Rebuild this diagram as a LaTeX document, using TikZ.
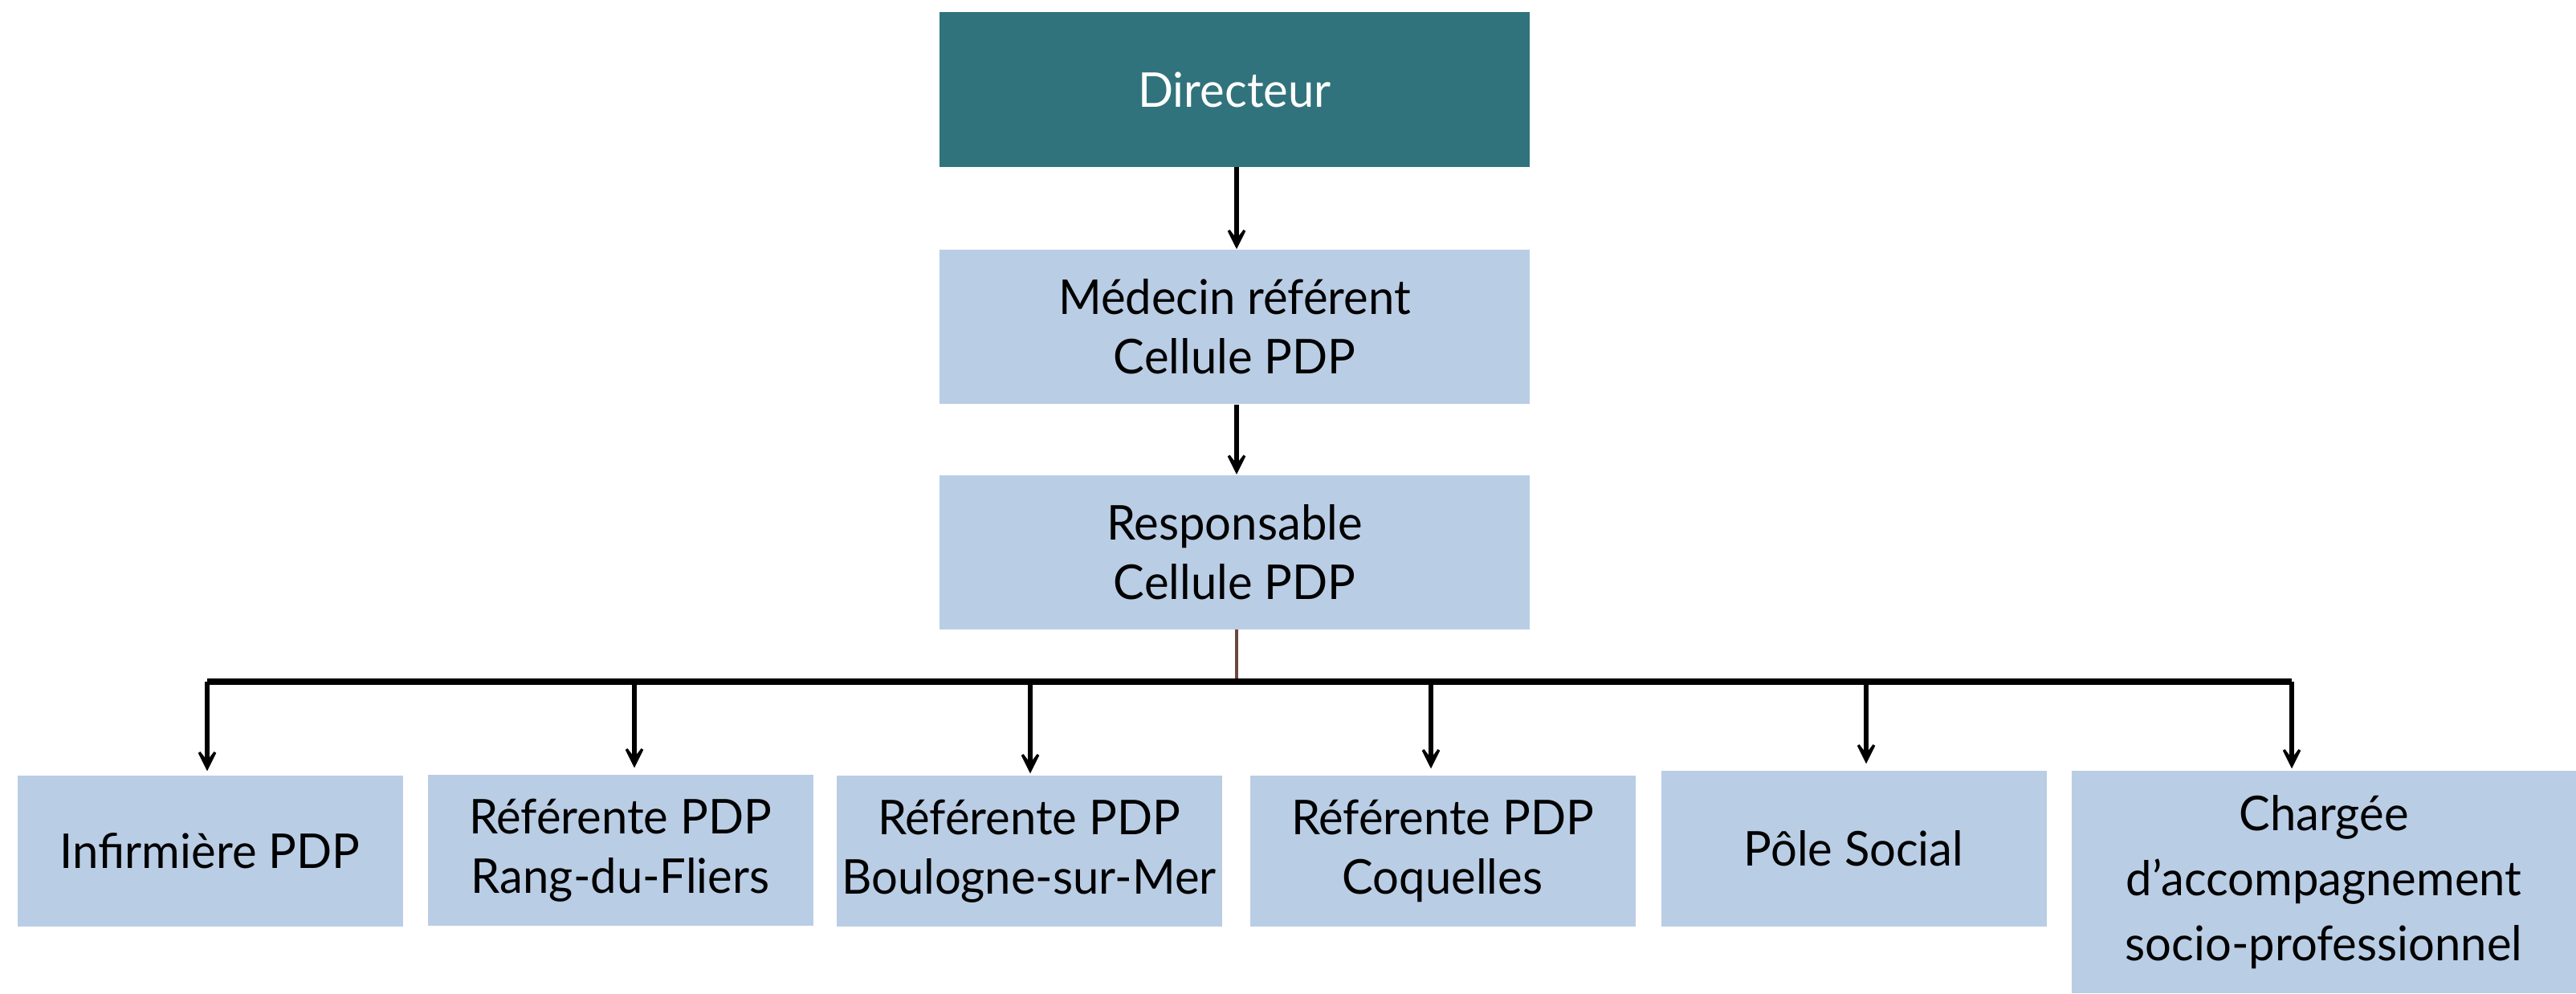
\documentclass[tikz,border=0pt]{standalone}
\usepackage{fontspec}
\setmainfont{Lato}[FakeStretch=0.97]
\usepackage{tikz}
\usepackage{xcolor}
\usetikzlibrary{arrows.meta}

\definecolor{dirteal}{HTML}{31737C}
\definecolor{boxblue}{HTML}{B9CDE5}
\definecolor{linkbrown}{HTML}{6B4A3E}

\begin{document}
\begin{tikzpicture}[
    box/.style={rectangle, fill=boxblue, minimum width=7.35cm, minimum height=1.92cm, inner sep=0pt, align=center, font=\fontsize{17}{21}\selectfont},
    unit/.style={rectangle, fill=boxblue, minimum width=4.8cm, minimum height=1.88cm, inner sep=0pt, align=center, font=\fontsize{17}{21}\selectfont},
    arrow/.style={-{Stealth[length=3.8mm, width=3.8mm, inset=2.5mm]}, line width=1.5pt},
    bar/.style={line width=2.2pt}
]
\useasboundingbox (0,0) rectangle (32.08,12.37);

\node[box, fill=dirteal, text=white] (dir) at (15.375,11.255) {Directeur};
\node[box] (med)  at (15.375,8.30)  {Médecin référent\\Cellule PDP};
\node[box] (resp) at (15.375,5.495) {Responsable\\Cellule PDP};

% second row
\node[unit] (inf)  at (2.615,1.77)  {Infirmière PDP};
\node[unit] (rdf)  at (7.725,1.78)  {Référente PDP\\Rang-du-Fliers};
\node[unit] (bsm)  at (12.815,1.77) {Référente PDP\\Boulogne-sur-Mer};
\node[unit] (coq)  at (17.965,1.77) {Référente PDP\\Coquelles};
\node[unit, minimum height=1.94cm] (soc) at (23.085,1.80) {Pôle Social};
\node[unit, minimum width=6.28cm, minimum height=2.77cm, font=\fontsize{17}{23}\selectfont] (csp) at (28.94,1.385) {Chargée\\d’accompagnement\\socio-professionnel};

\coordinate (hub) at (15.40,3.88);
\coordinate (t1) at (2.58,3.88);
\coordinate (t2) at (7.90,3.88);
\coordinate (t3) at (12.83,3.88);
\coordinate (t4) at (17.82,3.88);
\coordinate (t5) at (23.24,3.88);
\coordinate (t6) at (28.54,3.88);

\draw[arrow] (dir.south -| hub) -- (med.north -| hub);
\draw[arrow] (med.south -| hub) -- (resp.north -| hub);
\draw[line width=1.2pt, linkbrown] (resp.south -| hub) -- (hub);

\draw[bar] (t1) -- (t6);
\draw[arrow, shorten >=0.5mm] (t1) -- (t1 |- inf.north);
\draw[arrow, shorten >=0.8mm] (t2) -- (t2 |- rdf.north);
\draw[arrow, shorten >=0.2mm] (t3) -- (t3 |- bsm.north);
\draw[arrow, shorten >=0.8mm] (t4) -- (t4 |- coq.north);
\draw[arrow, shorten >=0.8mm] (t5) -- (t5 |- soc.north);
\draw[arrow, shorten >=0.2mm] (t6) -- (t6 |- csp.north);
\end{tikzpicture}
\end{document}
